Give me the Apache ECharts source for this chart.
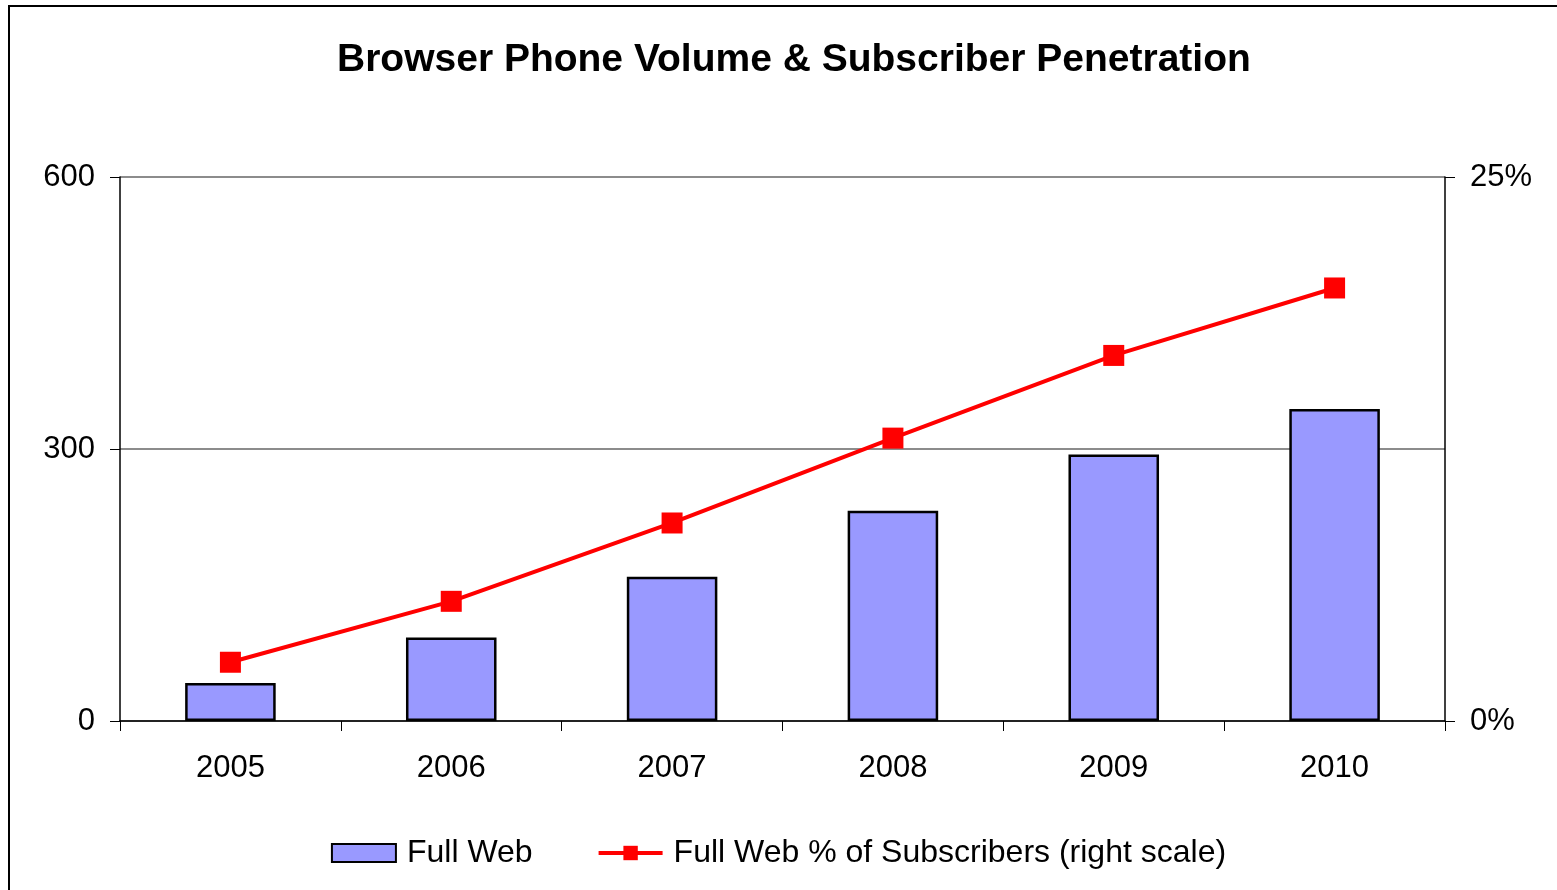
<!DOCTYPE html>
<html>
<head>
<meta charset="utf-8">
<script src="https://cdn.jsdelivr.net/npm/echarts@6/dist/echarts.min.js"></script>
<style>
  html, body { margin: 0; padding: 0; background: #fff; }
  #chart { width: 1557px; height: 890px; }
</style>
</head>
<body>
<div id="chart"></div>
<script>
// 数据
var years = ['2005', '2006', '2007', '2008', '2009', '2010'];
var fullWeb = [42, 92, 159, 232, 294, 344];
var fullWebPct = [2.7, 5.5, 9.1, 13.0, 16.8, 19.9];

var myChart = echarts.init(document.getElementById('chart'));
var fontName = 'Liberation Sans, Arial, sans-serif';

var option = {
    animation: false,
    backgroundColor: '#fff',
    textStyle: {
        fontFamily: fontName
    },
    graphic: [{
        type: 'rect',
        shape: {x: 9, y: 6, width: 1600, height: 950},
        style: {fill: 'none', stroke: '#000', lineWidth: 2},
        silent: true
    }],
    title: {
        text: 'Browser Phone Volume & Subscriber Penetration',
        left: 332,
        top: 36,
        textStyle: {
            fontFamily: fontName,
            fontSize: 39,
            fontWeight: 'bold',
            color: '#000'
        }
    },
    legend: {
        bottom: 16,
        left: 'center',
        itemWidth: 64,
        itemHeight: 18,
        itemGap: 64,
        textStyle: {
            fontFamily: fontName,
            fontSize: 32,
            color: '#000',
            padding: [0, 0, 0, 6]
        },
        data: [
            {name: 'Full Web', icon: 'rect'},
            {name: 'Full Web % of Subscribers (right scale)', lineStyle: {width: 4, color: '#FF0000'}}
        ]
    },
    grid: {
        left: 120,
        right: 112,
        top: 177,
        bottom: 169,
        containLabel: false
    },
    xAxis: {
        type: 'category',
        data: years,
        boundaryGap: true,
        axisLine: {lineStyle: {color: '#000', width: 1.5}},
        axisTick: {show: true, length: 10, lineStyle: {color: '#000', width: 1}},
        axisLabel: {
            margin: 32,
            fontSize: 31,
            color: '#000',
            fontFamily: fontName
        }
    },
    yAxis: [
        {
            type: 'value',
            min: 0,
            max: 600,
            interval: 300,
            axisLine: {show: true, lineStyle: {color: '#000', width: 1.5}},
            axisTick: {show: true, length: 10, lineStyle: {color: '#000'}},
            splitLine: {show: true, lineStyle: {color: '#8c8c8c', width: 2}},
            axisLabel: {
                margin: 25,
                fontSize: 31,
                color: '#000',
                fontFamily: fontName
            }
        },
        {
            type: 'value',
            min: 0,
            max: 25,
            interval: 25,
            position: 'right',
            axisLine: {show: true, lineStyle: {color: '#000', width: 1.5}},
            axisTick: {show: true, length: 10, lineStyle: {color: '#000'}},
            splitLine: {show: false},
            axisLabel: {
                margin: 25,
                fontSize: 31,
                color: '#000',
                fontFamily: fontName,
                formatter: '{value}%'
            }
        }
    ],
    series: [
        {
            name: 'Full Web',
            type: 'bar',
            data: fullWeb,
            barWidth: '41%',
            itemStyle: {
                color: '#9999FF',
                borderColor: '#000',
                borderWidth: 2.5
            }
        },
        {
            name: 'Full Web % of Subscribers (right scale)',
            type: 'line',
            yAxisIndex: 1,
            data: fullWebPct,
            symbol: 'rect',
            symbolSize: 21,
            lineStyle: {color: '#FF0000', width: 4},
            itemStyle: {color: '#FF0000'}
        }
    ]
};

myChart.setOption(option);
</script>
</body>
</html>
